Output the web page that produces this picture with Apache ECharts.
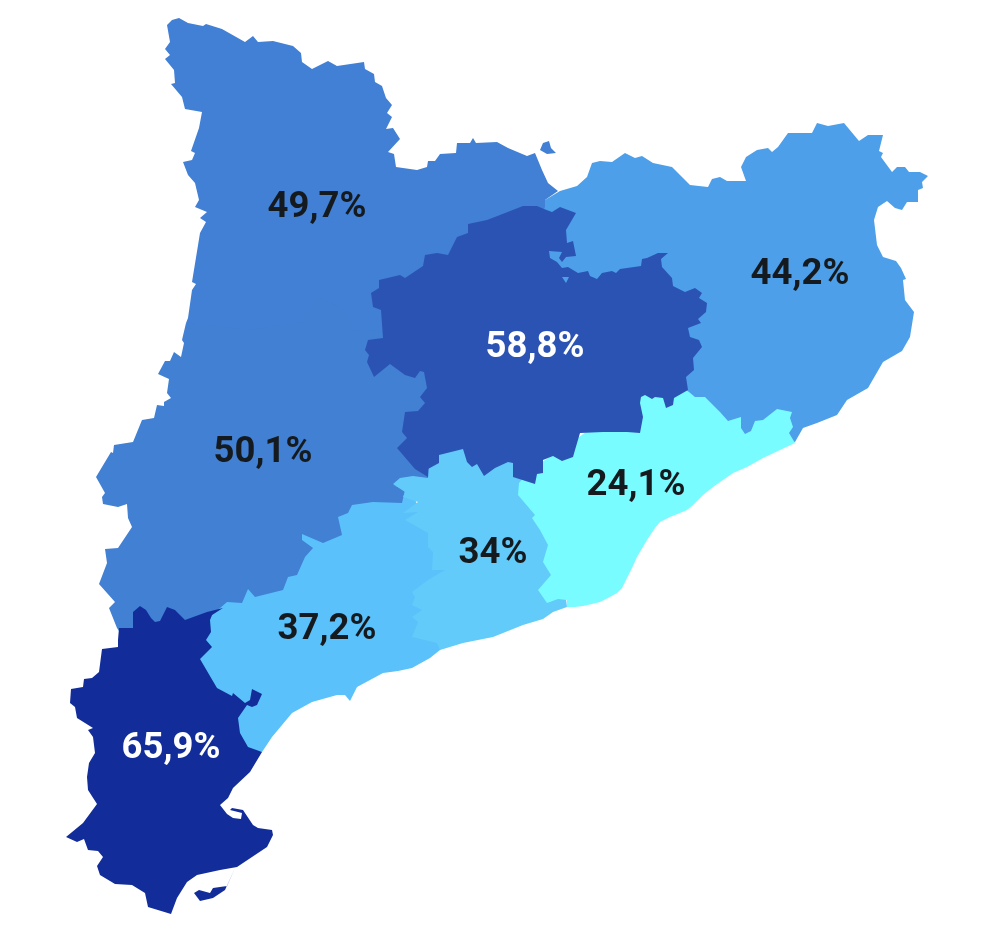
<!DOCTYPE html>
<html>
<head>
<meta charset="utf-8">
<script src="https://cdn.jsdelivr.net/npm/echarts@6/dist/echarts.min.js"></script>
<style>
    html, body { margin: 0; padding: 0; background: #fff; }
    #chart { width: 1004px; height: 928px; }
</style>
</head>
<body>
<div id="chart"></div>
<script>
// values, one per region, same order as the outlines below
const regionNames = ['Comarques Gironines', 'Alt Pirineu i Aran', 'Ponent', 'Camp de Tarragona', 'Penedes', 'Metropolita', 'Terres de l\'Ebre', 'Catalunya Central'];
const regionValues = [44.2, 49.7, 50.1, 37.2, 34, 24.1, 65.9, 58.8];

// outlines as [x, y] image pixels; later regions paint over earlier ones
const gironaOutline = [[545,200],[560,191],[577,186],[587,177],[592,163],[600,161],[612,162],[625,153],[635,158],[642,156],[653,163],[672,167],[690,185],[708,187],[712,179],[720,177],[727,181],[746,181],[741,167],[746,157],[757,150],[768,148],[772,152],[778,147],[788,133],[812,133],[817,123],[828,126],[844,123],[859,141],[868,135],[883,135],[879,151],[883,153],[881,157],[892,172],[897,167],[905,167],[909,172],[920,172],[928,176],[922,182],[923,188],[918,190],[918,202],[907,202],[902,210],[895,208],[887,201],[878,207],[874,220],[877,245],[883,257],[896,261],[901,268],[906,279],[903,280],[905,300],[914,312],[910,337],[902,351],[883,362],[868,388],[847,400],[837,415],[817,423],[803,428],[795,442],[700,430],[640,420],[560,290],[540,240]];
const altPirineuOutline = [[167,25],[172,20],[179,18],[188,23],[203,26],[206,24],[222,29],[245,42],[253,36],[258,42],[273,41],[293,46],[301,53],[302,62],[312,69],[328,61],[337,66],[364,62],[365,69],[374,74],[375,82],[382,86],[386,98],[392,105],[387,113],[392,117],[386,129],[393,128],[400,139],[388,152],[394,154],[396,167],[417,170],[427,167],[428,161],[435,161],[440,154],[456,153],[457,143],[470,143],[473,138],[476,143],[497,142],[508,148],[527,156],[535,153],[542,170],[548,183],[558,191],[545,200],[545,207],[530,240],[470,300],[440,340],[350,335],[310,330],[250,335],[195,330],[186,323],[188,318],[192,290],[196,284],[192,282],[200,233],[206,222],[200,218],[207,212],[195,207],[199,200],[195,183],[188,175],[183,162],[192,160],[195,153],[191,151],[199,128],[202,112],[185,109],[182,97],[171,84],[175,83],[174,70],[165,59],[170,55],[165,49],[170,42]];
const altPirineuIsland = [[540,150],[543,143],[549,141],[551,148],[556,153],[547,154]];
const ponentOutline = [[186,323],[250,330],[300,322],[318,297],[345,310],[352,330],[400,332],[440,340],[440,380],[435,470],[425,490],[400,520],[320,570],[260,620],[200,640],[125,640],[117,628],[109,608],[115,602],[99,584],[107,563],[105,549],[118,548],[132,527],[128,518],[127,504],[118,507],[103,504],[102,497],[105,493],[96,477],[111,452],[113,453],[114,445],[133,442],[142,420],[154,418],[157,405],[164,406],[164,402],[171,398],[167,393],[169,379],[158,374],[165,361],[170,361],[174,352],[181,357],[184,343],[182,340]];
const campOutline = [[393,485],[405,490],[402,503],[373,502],[352,505],[348,513],[338,517],[342,535],[323,543],[302,534],[302,540],[313,548],[305,557],[297,575],[288,577],[283,590],[255,597],[248,589],[242,603],[227,602],[212,615],[200,640],[190,660],[215,700],[235,720],[240,750],[262,752],[272,737],[292,713],[312,702],[337,695],[345,695],[350,701],[357,687],[383,673],[398,671],[412,668],[430,658],[440,650],[450,620],[450,570],[430,530],[410,490]];
const penedesOutline = [[393,484],[400,478],[413,476],[428,478],[432,440],[510,440],[525,470],[535,490],[560,540],[565,590],[567,607],[553,612],[543,619],[523,625],[493,637],[463,643],[440,650],[437,643],[412,637],[418,622],[412,617],[422,610],[412,605],[415,597],[412,592],[428,580],[445,570],[432,570],[433,552],[428,547],[428,533],[405,520],[418,512],[403,513],[418,502],[403,497],[405,492]];
const metropolitaOutline = [[689,392],[695,397],[705,397],[720,412],[728,421],[741,417],[741,428],[745,434],[751,431],[755,421],[763,420],[777,409],[792,412],[790,418],[793,427],[789,433],[795,443],[780,450],[763,458],[747,467],[733,473],[723,480],[713,487],[703,495],[693,505],[687,510],[680,513],[670,517],[660,522],[655,528],[647,540],[637,557],[632,568],[627,578],[622,588],[617,593],[608,598],[600,602],[592,604],[583,606],[575,607],[567,607],[567,600],[558,599],[547,603],[538,590],[551,575],[543,562],[548,545],[540,530],[532,518],[535,515],[518,495],[519,483],[530,470],[575,440],[650,385],[680,385]];
const ebreOutline = [[119,628],[133,628],[133,612],[140,606],[146,610],[151,618],[155,622],[160,621],[167,607],[175,610],[185,620],[207,612],[223,608],[212,615],[210,620],[211,632],[206,640],[212,647],[200,659],[217,688],[232,696],[233,693],[245,703],[250,700],[252,689],[262,694],[257,705],[252,707],[247,705],[238,718],[240,733],[248,747],[262,752],[250,772],[233,788],[228,798],[220,805],[227,814],[233,818],[241,819],[242,813],[230,810],[232,808],[243,810],[253,825],[258,828],[272,830],[273,835],[267,847],[237,867],[220,870],[197,875],[187,882],[177,898],[171,914],[148,907],[145,893],[132,885],[115,884],[100,875],[97,866],[103,857],[98,851],[88,850],[84,839],[77,842],[66,837],[83,823],[97,804],[88,790],[87,777],[89,763],[95,753],[93,737],[88,730],[93,728],[77,718],[75,707],[70,703],[71,689],[83,687],[84,679],[92,678],[99,672],[102,649],[118,647],[118,640]];
const ebreIsland = [[235,868],[227,886],[213,888],[210,893],[199,890],[194,893],[200,901],[213,898],[225,890]];
const centralOutline = [[523,206],[537,206],[544,209],[552,212],[560,207],[576,213],[566,230],[567,243],[573,241],[576,256],[566,257],[562,262],[559,258],[562,252],[549,251],[550,258],[557,262],[562,268],[568,267],[578,273],[588,271],[590,276],[597,279],[602,273],[612,271],[616,273],[620,269],[641,266],[642,259],[647,258],[658,253],[668,253],[661,259],[662,267],[672,278],[673,286],[685,292],[695,288],[702,293],[699,298],[707,303],[706,312],[698,319],[701,323],[688,328],[690,337],[699,340],[702,347],[693,358],[694,370],[686,377],[688,390],[674,398],[673,405],[666,408],[663,398],[655,397],[652,399],[645,395],[641,397],[640,403],[643,417],[640,433],[627,432],[603,432],[580,433],[575,450],[573,457],[562,461],[553,456],[543,460],[543,473],[537,474],[535,484],[513,477],[513,463],[508,462],[495,468],[484,476],[477,464],[472,467],[467,462],[463,449],[439,455],[439,463],[428,469],[428,477],[415,469],[397,448],[407,438],[402,432],[405,412],[418,411],[425,403],[420,397],[427,388],[424,372],[420,371],[415,378],[405,375],[390,364],[374,377],[367,362],[369,355],[365,350],[368,340],[383,338],[381,310],[373,307],[371,293],[379,288],[379,280],[400,275],[405,278],[423,266],[425,255],[437,253],[448,255],[457,237],[468,233],[468,224],[487,220],[500,215]];
const centralHole = [[562,277],[566,283],[569,277]];

// where each percentage sits, image pixels
const labelPoints = [[800,275],[317,208],[263,453],[327,630],[493,554],[636,486],[171,749],[535,348]];

const regionColors = ['#4E9FE9', '#4180D4', '#4180D3', '#5AC1FB', '#62CBFA', '#78FCFF', '#122D99', '#2B53B3'];
const labelColors = ['#151A1E', '#151A1E', '#151A1E', '#151A1E', '#151A1E', '#151A1E', '#ffffff', '#ffffff'];

// geo coordinates point up, the picture points down
function flip(ring) {
    return ring.map(p => [p[0], -p[1]]);
}

const regionShapes = [
    [[gironaOutline]],
    [[altPirineuOutline], [altPirineuIsland]],
    [[ponentOutline]],
    [[campOutline]],
    [[penedesOutline]],
    [[metropolitaOutline]],
    [[ebreOutline], [ebreIsland]],
    [[centralOutline, centralHole]]
];

const geoJson = {
    type: 'FeatureCollection',
    features: regionNames.map((name, i) => ({
        type: 'Feature',
        properties: { name: name, cp: flip([labelPoints[i]])[0] },
        geometry: {
            type: 'MultiPolygon',
            coordinates: regionShapes[i].map(poly => poly.map(flip))
        }
    }))
};

echarts.registerMap('catalunya', geoJson);

const chart = echarts.init(document.getElementById('chart'));
chart.setOption({
    animation: false,
    backgroundColor: '#fff',
    series: [{
        type: 'map',
        map: 'catalunya',
        aspectScale: 1,
        boundingCoords: [[0, 0], [1004, -928]],
        left: 0,
        right: 0,
        top: 0,
        bottom: 0,
        roam: false,
        silent: true,
        selectedMode: false,
        itemStyle: { borderWidth: 0 },
        label: {
            show: true,
            fontFamily: 'Roboto',
            fontWeight: 'bold',
            fontSize: 36.5,
            formatter: p => String(p.value).replace('.', ',') + '%'
        },
        data: regionNames.map((name, i) => ({
            name: name,
            value: regionValues[i],
            itemStyle: { areaColor: regionColors[i] },
            label: { color: labelColors[i] }
        }))
    }]
});
</script>
</body>
</html>
